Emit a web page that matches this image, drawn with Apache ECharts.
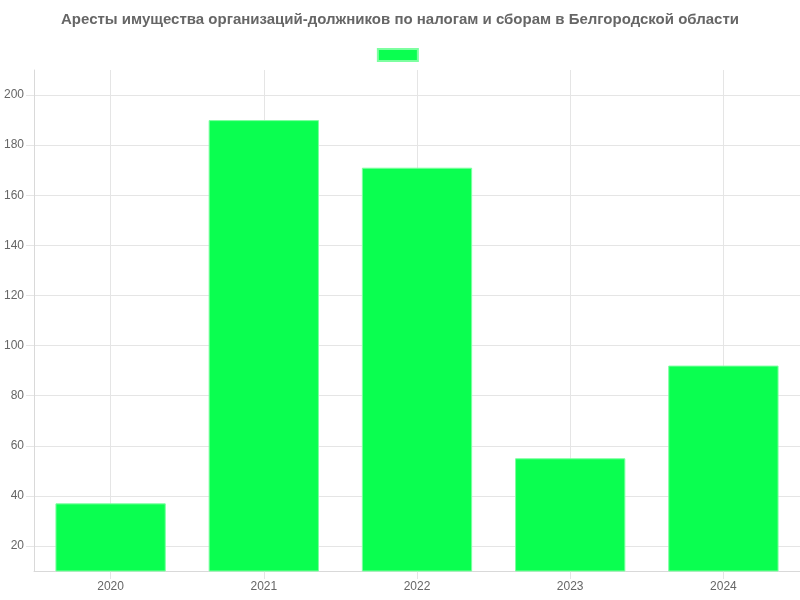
<!DOCTYPE html>
<html>
<head>
<meta charset="utf-8">
<script src="https://cdn.jsdelivr.net/npm/echarts@6/dist/echarts.min.js"></script>
<style>
  html, body { margin: 0; padding: 0; background: #fff; }
  #chart { width: 800px; height: 600px; }
</style>
</head>
<body>
<div id="chart"></div>
<script>
var years = ['2020', '2021', '2022', '2023', '2024'];
var arrests = [37, 190, 171, 55, 92];
var yTicks = [20, 40, 60, 80, 100, 120, 140, 160, 180, 200];

var dom = document.getElementById('chart');
var myChart = echarts.init(dom);

var option = {
    animation: false,
    textStyle: { fontFamily: 'Liberation Sans, Arial, sans-serif' },
    title: {
        text: 'Аресты имущества организаций-должников по налогам и сборам в Белгородской области',
        left: 'center',
        top: 7,
        textStyle: { fontSize: 15, fontWeight: 'bold', color: '#666' }
    },
    legend: {
        top: 43,
        left: 'center',
        itemWidth: 40,
        itemHeight: 12,
        itemGap: 0,
        selectedMode: false,
        textStyle: { fontSize: 1 },
        data: [{ name: ' ', icon: 'rect' }]
    },
    grid: { left: 34, right: 0, top: 70, bottom: 29 },
    xAxis: {
        type: 'category',
        data: years,
        axisLine: { lineStyle: { color: '#d9d9d9' } },
        axisTick: { show: true, alignWithLabel: true, length: 8, lineStyle: { color: '#e5e5e5' } },
        axisLabel: { color: '#666', fontSize: 12, margin: 10 },
        splitLine: { show: true, alignWithLabel: true, lineStyle: { color: '#e5e5e5' } }
    },
    yAxis: {
        type: 'value',
        min: 10,
        max: 210,
        axisLine: { show: true, lineStyle: { color: '#d9d9d9' } },
        axisTick: { show: true, length: 8, customValues: yTicks, lineStyle: { color: '#e5e5e5' } },
        axisLabel: { color: '#666', fontSize: 12, margin: 10, customValues: yTicks },
        splitLine: { show: true, lineStyle: { color: '#e5e5e5' } }
    },
    series: [{
        name: ' ',
        type: 'bar',
        data: arrests,
        barCategoryGap: '28%',
        itemStyle: { color: '#0aff50', borderColor: '#7dffa0', borderWidth: 1 }
    }]
};

myChart.setOption(option, true);
</script>
</body>
</html>
